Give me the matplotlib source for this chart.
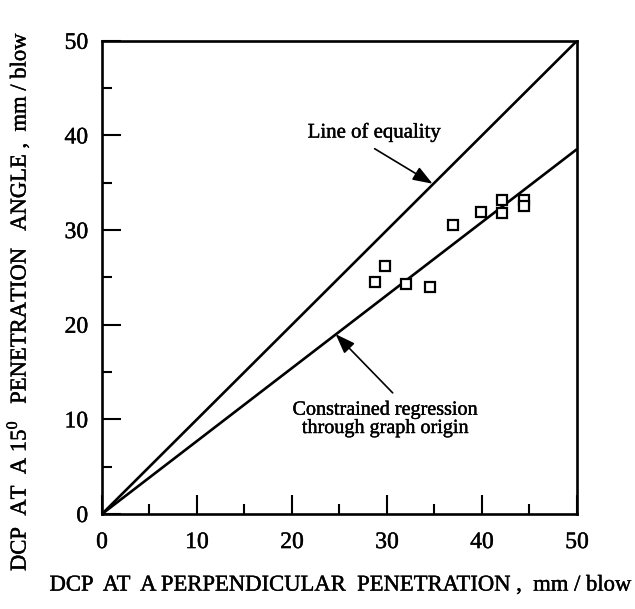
import numpy as np
import matplotlib.pyplot as plt
import matplotlib.patheffects as pe

# DCP readings, mm/blow
perp = [28.7, 29.8, 32.0, 34.5, 36.9, 39.9, 42.1, 42.1, 44.4, 44.4]
angled = [24.5, 26.2, 24.3, 24.0, 30.5, 31.9, 33.2, 31.8, 33.2, 32.5]
slope = 0.771  # regression through origin
ticks = [0, 10, 20, 30, 40, 50]

plt.rcParams['font.family'] = ['Liberation Serif', 'DejaVu Serif']
plt.rcParams['mathtext.fontset'] = 'custom'
plt.rcParams['mathtext.rm'] = 'Liberation Serif'

heavy = [pe.withStroke(linewidth=0.3, foreground='black')]

fig = plt.figure(figsize=(6.35, 6.09), dpi=100)
ax = fig.add_axes([0.1606, 0.156, 0.748, 0.777])

x = np.array([0, 50])
ax.plot(x, x, color='black', lw=1.9, solid_capstyle='butt')
ax.plot(x, slope * x, color='black', lw=1.9, solid_capstyle='butt')
ax.plot(perp, angled, ls='none', marker='s', ms=7.5, mfc='white', mec='black', mew=1.6)

ax.set_xlim(0, 50)
ax.set_ylim(0, 50)
ax.set_xticks(ticks)
ax.set_yticks(ticks)
ax.set_xticks(np.arange(5, 50, 10), minor=True)
ax.set_yticks(np.arange(5, 50, 10), minor=True)
ax.tick_params(which='major', direction='in', length=14, width=1.5, labelsize=17)
ax.tick_params(which='minor', direction='in', length=7, width=1.5)
ax.tick_params(axis='x', pad=13)
ax.tick_params(axis='y', pad=10)
for s in ax.spines.values():
    s.set_linewidth(1.9)
for lab in ax.get_xticklabels() + ax.get_yticklabels():
    lab.set_path_effects(heavy)

arrow = dict(arrowstyle='-|>,head_length=0.6,head_width=0.22', color='black', lw=1.2,
             mutation_scale=20, shrinkA=0, shrinkB=0)
ax.text(28.7, 40.3, 'Line of equality', ha='center', va='center', fontsize=15,
        path_effects=heavy)
ax.annotate('', xy=(34.8, 34.9), xytext=(28.7, 38.6), arrowprops=arrow)
ax.text(29.8, 10.0, 'Constrained regression\nthrough graph origin', ha='center', va='center',
        fontsize=14.5, linespacing=0.95, path_effects=heavy)
ax.annotate('', xy=(24.6, 19.0), xytext=(30.6, 12.8), arrowprops=arrow)

fig.text(0.535, 0.022, 'DCP  AT  A PERPENDICULAR  PENETRATION ,  mm / blow',
         ha='center', va='bottom', fontsize=16.3, path_effects=heavy)
fig.text(0.028, 0.505, r'DCP  AT  A 15$^{\mathregular{0}}$   PENETRATION   ANGLE ,  mm / blow',
         ha='center', va='center', rotation=90, fontsize=16.3, path_effects=heavy)

fig.savefig('out.png', dpi=100)
